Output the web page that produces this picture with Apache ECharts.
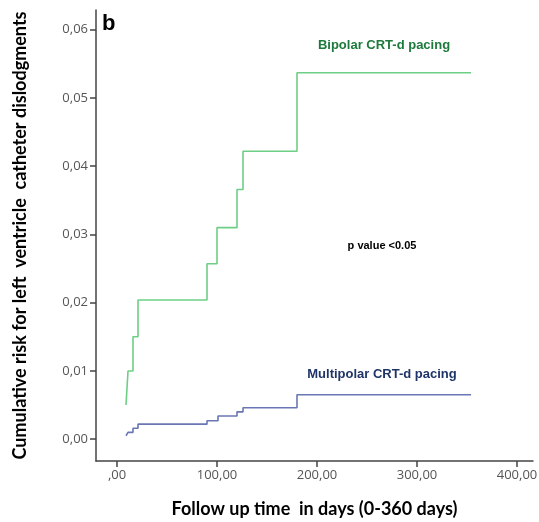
<!DOCTYPE html>
<html>
<head>
<meta charset="utf-8">
<script src="https://cdn.jsdelivr.net/npm/echarts@6/dist/echarts.min.js"></script>
<style>html,body{margin:0;padding:0;background:#fff}#c{width:539px;height:522px}</style>
</head>
<body>
<div id="c"></div>
<script>
// Follow-up days and cumulative risk (step points, value holds from the given day)
var bipolarDays   = [9, 11, 16, 21, 90, 100, 120, 126, 180, 354];
var bipolarRisk   = [0.005, 0.010, 0.015, 0.0204, 0.0257, 0.031, 0.0366, 0.0422, 0.0537, 0.0537];
var multiDays     = [9, 11, 16, 21, 90, 101, 120, 126, 180, 354];
var multiRisk     = [0.0005, 0.0010, 0.0016, 0.0022, 0.0027, 0.0034, 0.0040, 0.0046, 0.0065, 0.0065];
var xTicks = [0, 100, 200, 300, 400];
var yTicks = [0, 0.01, 0.02, 0.03, 0.04, 0.05, 0.06];
var xTickLabels = [',00', '100,00', '200,00', '300,00', '400,00'];
var yTickLabels = ['0,00', '0,01', '0,02', '0,03', '0,04', '0,05', '0,06'];

function pairs(xs, ys){ return xs.map(function(x,i){ return [x, ys[i]]; }); }

var chart = echarts.init(document.getElementById('c'));
var axisLineStyle = {color:'#444', width:1.5};
chart.setOption({
  animation:false,
  backgroundColor:'#fff',
  grid:{left:96, right:6, top:10, bottom:61, containLabel:false, outerBoundsMode:'none'},
  xAxis:{
    type:'value', min:-21, max:416,
    splitLine:{show:false},
    axisLine:{show:true, onZero:false, lineStyle:axisLineStyle},
    axisTick:{show:true, length:6, lineStyle:axisLineStyle, customValues:xTicks},
    axisLabel:{margin:8, color:'#555', fontFamily:'Open Sans', fontSize:13, customValues:xTicks,
      formatter:function(v){ var i = xTicks.indexOf(v); return i>=0 ? xTickLabels[i] : ''; }},
    name:'Follow up time  in days (0-360 days)', nameLocation:'middle', nameGap:39,
    nameTextStyle:{fontFamily:'Lato', fontWeight:'bold', fontSize:18, color:'#000'}
  },
  yAxis:{
    type:'value', min:-0.0032, max:0.0629,
    splitLine:{show:false},
    axisLine:{show:true, onZero:false, lineStyle:axisLineStyle},
    axisTick:{show:true, length:6, lineStyle:axisLineStyle, customValues:yTicks},
    axisLabel:{margin:8, color:'#555', fontFamily:'Open Sans', fontSize:13, customValues:yTicks,
      formatter:function(v){ for (var i=0;i<yTicks.length;i++){ if (Math.abs(yTicks[i]-v)<1e-9) return yTickLabels[i]; } return ''; }},
    name:'Cumulative risk for left  ventricle  catheter dislodgments', nameLocation:'middle', nameGap:67,
    nameRotate:90,
    nameTextStyle:{fontFamily:'Lato', fontWeight:'bold', fontSize:18, color:'#000'}
  },
  series:[
    {type:'line', name:'Bipolar', step:'end', data:pairs(bipolarDays, bipolarRisk), showSymbol:false,
     lineStyle:{color:'#6dcf86', width:1.6}, itemStyle:{color:'#6dcf86'}},
    {type:'line', name:'Multipolar', step:'end', data:pairs(multiDays, multiRisk), showSymbol:false,
     lineStyle:{color:'#6a76b3', width:1.6}, itemStyle:{color:'#6a76b3'}}
  ],
  graphic:[
    {type:'text', left:102, top:13, style:{text:'b', fontFamily:'Liberation Sans', fontWeight:'bold', fontSize:22, fill:'#000'}},
    {type:'text', x:384, y:45, style:{text:'Bipolar CRT-d pacing', align:'center', verticalAlign:'middle', fontFamily:'Liberation Sans', fontWeight:'bold', fontSize:13, fill:'#1d7a3c'}},
    {type:'text', x:382, y:374, style:{text:'Multipolar CRT-d pacing', align:'center', verticalAlign:'middle', fontFamily:'Liberation Sans', fontWeight:'bold', fontSize:13, fill:'#1f3567'}},
    {type:'text', x:382, y:246, style:{text:'p value <0.05', align:'center', verticalAlign:'middle', fontFamily:'Liberation Sans', fontWeight:'bold', fontSize:11, fill:'#000'}}
  ]
});
</script>
</body>
</html>
